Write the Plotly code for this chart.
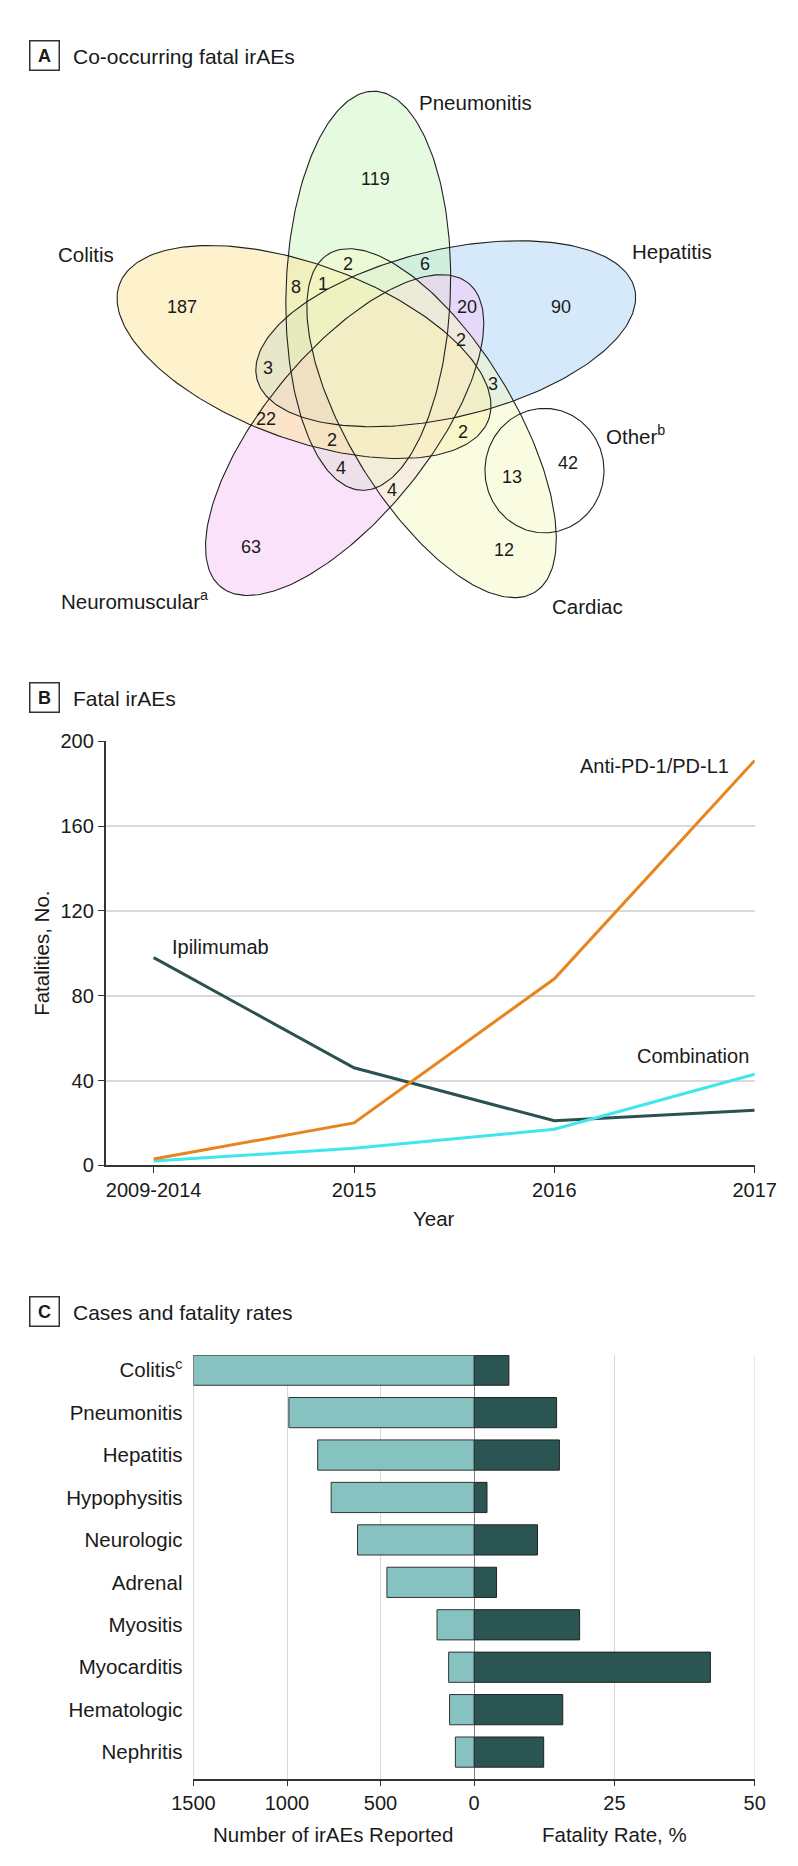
import numpy as np
import plotly.graph_objects as go

FONT = "Liberation Sans, Arial, sans-serif"
INK = "#1a1a1a"

# ---- Panel A: co-occurring fatal irAEs (Venn) ----
venn_sets = ["Colitis", "Pneumonitis", "Hepatitis", "Neuromuscular<sup>a</sup>", "Cardiac", "Other<sup>b</sup>"]
venn_counts = [187, 119, 90, 63, 12, 42, 13, 2, 6, 8, 1, 20, 2, 3, 3, 22, 2, 2, 4, 4]

# ---- Panel B: fatal irAEs by year ----
years = ["2009-2014", "2015", "2016", "2017"]
anti_pd1 = [3, 20, 88, 191]
ipilimumab = [98, 46, 21, 26]
combination = [2, 8, 17, 43]
series_names = ["Anti-PD-1/PD-L1", "Ipilimumab", "Combination"]

# ---- Panel C: cases and fatality rates ----
irae_types = ["Colitis<sup>c</sup>", "Pneumonitis", "Hepatitis", "Hypophysitis", "Neurologic",
              "Adrenal", "Myositis", "Myocarditis", "Hematologic", "Nephritis"]
irae_cases = [1500, 990, 836, 764, 623, 466, 198, 136, 131, 100]
fatality_rate = [6.2, 14.7, 15.2, 2.3, 11.3, 4.0, 18.8, 42.1, 15.8, 12.4]

# layout geometry (pixel canvas, y down)
W, H = 798, 1866
shape_geom = [  # cx, cy, semi-major, semi-minor, angle (deg, ccw) -- same order as venn_sets
    (290, 337, 207, 89, 161),
    (358, 275, 202, 87, 88),
    (440, 318.5, 205, 85, 12.5),
    (333, 421, 202, 85, 229),
    (425, 409, 203, 86, 303),
    (544.5, 457, 63, 63, 0),
]
shape_fill = ["rgba(251,229,153,0.5)", "rgba(205,245,193,0.5)", "rgba(171,211,245,0.5)",
              "rgba(245,199,245,0.5)", "rgba(245,249,197,0.5)", None]
fill_order = [2, 1, 3, 0, 4]  # hepatitis, pneumonitis, neuromuscular, colitis, cardiac
set_label_pos = [(28, 238, "left"), (410, 84, "left"), (635, 235, "left"),
                 (31, 588, "left"), (550, 594, "left"), (608, 421, "left")]
count_pos = [(160.8, 291.4), (365.5, 162), (562.4, 291.4), (234, 533.8), (501.4, 537.7),
             (569, 448.8), (510, 463.4), (337, 248.3), (418.4, 248.3), (281.5, 271),
             (310.5, 268), (462, 291.8), (456, 325), (251.5, 353), (490, 369),
             (250, 404.5), (320, 426.3), (458, 418.3), (328.8, 454.5), (383, 476.3)]


def ellipse(cx, cy, a, b, ang, n=240):
    t = np.linspace(0, 2 * np.pi, n)
    r = np.radians(ang)
    x = cx + a * np.cos(t) * np.cos(r) - b * np.sin(t) * np.sin(r)
    y = cy - (a * np.cos(t) * np.sin(r) + b * np.sin(t) * np.cos(r))
    return x, y


fig = go.Figure()

# fills first, outlines on top
for i in fill_order:
    ex, ey = ellipse(*shape_geom[i])
    fig.add_trace(go.Scatter(x=ex, y=ey, mode="lines", fill="toself", fillcolor=shape_fill[i],
                             line=dict(width=0), hoverinfo="skip", xaxis="x", yaxis="y"))
for geom in shape_geom:
    ex, ey = ellipse(*geom)
    fig.add_trace(go.Scatter(x=ex, y=ey, mode="lines", line=dict(color="#222", width=1.1),
                             hoverinfo="skip", xaxis="x", yaxis="y"))

annotations = []
for name, (lx, ly, anc) in zip(venn_sets, set_label_pos):
    annotations.append(dict(x=lx, y=ly, xref="x", yref="y", text=name, showarrow=False,
                            xanchor=anc, yanchor="middle", font=dict(size=20.5)))
for cnt, (cx, cy) in zip(venn_counts, count_pos):
    annotations.append(dict(x=cx, y=cy, xref="x", yref="y", text=str(cnt), showarrow=False,
                            font=dict(size=18)))

# ---- Panel B lines ----
fig.add_trace(go.Scatter(x=years, y=ipilimumab, mode="lines", line=dict(color="#2b5250", width=3),
                         xaxis="x2", yaxis="y2", name=series_names[1]))
fig.add_trace(go.Scatter(x=years, y=combination, mode="lines", line=dict(color="#3fe6ee", width=3),
                         xaxis="x2", yaxis="y2", name=series_names[2]))
fig.add_trace(go.Scatter(x=years, y=anti_pd1, mode="lines", line=dict(color="#e8841d", width=3),
                         xaxis="x2", yaxis="y2", name=series_names[0]))
for name, (lx, ly) in zip(series_names, [(661, 756), (202, 939), (702, 1049)]):
    annotations.append(dict(x=lx, y=ly, xref="x", yref="y", text=name, showarrow=False,
                            font=dict(size=20)))

# ---- Panel C bars ----
fig.add_trace(go.Bar(y=irae_types, x=irae_cases, orientation="h", width=0.712,
                     marker=dict(color="#86c2c0", line=dict(color="#333", width=1)),
                     xaxis="x3", yaxis="y3"))
fig.add_trace(go.Bar(y=irae_types, x=fatality_rate, orientation="h", width=0.712,
                     marker=dict(color="#2a5553", line=dict(color="#222", width=1)),
                     xaxis="x4", yaxis="y3"))

# panel titles with boxed letters
for letter, title, cy in [("A", "Co-occurring fatal irAEs", 36.6),
                          ("B", "Fatal irAEs", 686.5),
                          ("C", "Cases and fatality rates", 1308)]:
    annotations.append(dict(x=15.5, y=cy, xref="x", yref="y", text="<b>%s</b>" % letter,
                            showarrow=False, width=26, height=26, borderpad=1,
                            bordercolor="#333", borderwidth=1.5, font=dict(size=18)))
    annotations.append(dict(x=43, y=cy + 1, xref="x", yref="y", text=title, showarrow=False,
                            xanchor="left", font=dict(size=21)))

# axis titles
annotations += [
    dict(x=427.6, y=1214, xref="x", yref="y", text="Year", showarrow=False, font=dict(size=20.5)),
    dict(x=12.7, y=946, xref="x", yref="y", text="Fatalities, No.", textangle=-90,
         showarrow=False, font=dict(size=20.5)),
    dict(x=320.6, y=1837, xref="x", yref="y", text="Number of irAEs Reported", showarrow=False,
         font=dict(size=20.5)),
    dict(x=619, y=1837, xref="x", yref="y", text="Fatality Rate, %", showarrow=False,
         font=dict(size=20.5)),
]


def ydom(top, bottom):
    return [1 - bottom / H, 1 - top / H]


axis_common = dict(showline=True, linecolor="#333", linewidth=1.5, ticks="outside",
                   ticklen=6, tickcolor="#333", zeroline=False, tickfont=dict(size=20))

fig.update_layout(
    width=W, height=H, margin=dict(l=0, r=0, t=0, b=0),
    paper_bgcolor="white", plot_bgcolor="rgba(0,0,0,0)", showlegend=False,
    barmode="overlay", font=dict(family=FONT, size=20, color=INK),
    annotations=annotations,
    xaxis=dict(domain=[0, 1], range=[0, W], visible=False, fixedrange=True),
    yaxis=dict(domain=[0, 1], range=[H, 0], visible=False, fixedrange=True),
    xaxis2=dict(axis_common, domain=[80 / W, 767 / W], anchor="y2", type="category",
                range=[-0.24, 3], showgrid=False),
    yaxis2=dict(axis_common, domain=ydom(731, 1160), anchor="x2", range=[0, 200],
                tickvals=[0, 40, 80, 120, 160, 200], showgrid=True, gridcolor="#d9d9d9",
                gridwidth=1.5),
    xaxis3=dict(axis_common, domain=[173 / W, 470 / W], anchor="y3", range=[1500, 0],
                tickvals=[1500, 1000, 500], ticklen=5, showgrid=True, gridcolor="#d9d9d9",
                gridwidth=1.2),
    xaxis4=dict(axis_common, domain=[470 / W, 767 / W], anchor="y3", range=[0, 50],
                tickvals=[0, 25, 50], ticklen=5, showgrid=True, gridcolor="#d9d9d9",
                gridwidth=1.2),
    yaxis3=dict(domain=ydom(1352, 1781), anchor="x3", type="category",
                categoryorder="array", categoryarray=irae_types, range=[9.634, -0.356],
                showline=False, ticks="", showgrid=False, ticklabelstandoff=10,
                tickfont=dict(size=20.5)),
)

# edge gridlines of panel C (range ends) and the dark zero divider
fig.add_shape(type="line", xref="x3", yref="y3 domain", x0=1500, x1=1500, y0=0, y1=1,
              line=dict(color="#b8b8b8", width=1.2), layer="below")
fig.add_shape(type="line", xref="x4", yref="y3 domain", x0=50, x1=50, y0=0, y1=1,
              line=dict(color="#d9d9d9", width=1.2), layer="below")
fig.add_shape(type="line", xref="x4", yref="y3 domain", x0=0, x1=0, y0=0, y1=1,
              line=dict(color="#333", width=1.2), layer="above")

fig.write_html("out.html")
